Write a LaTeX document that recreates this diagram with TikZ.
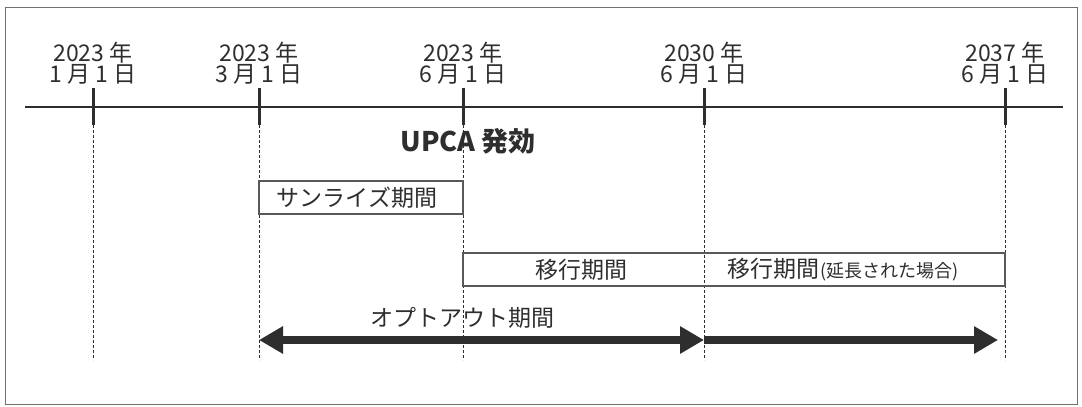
\documentclass[tikz,border=0pt]{standalone}
\usepackage{fontspec}
\setmainfont{Noto Sans CJK JP}
\usetikzlibrary{arrows.meta}
\definecolor{ink}{HTML}{2E2E2E}
\definecolor{frame}{HTML}{707070}
\tikzset{
  datelbl/.style={align=center,font=\fontsize{23}{21}\selectfont,text=ink,inner sep=0pt},
  tickln/.style={line width=3pt,draw=ink},
  axis/.style={line width=2.6pt,draw=ink},
  guide/.style={draw=ink,line width=0.8pt,dash pattern=on 3pt off 2pt},
  periodbox/.style={draw=ink!80,line width=1.1pt},
  boxlbl/.style={font=\fontsize{23}{24}\selectfont,text=ink,inner sep=0pt},
  bigarrow/.style={draw=ink,line width=8pt,-{Triangle[length=24pt,width=26pt]}},
  dblarrow/.style={draw=ink,line width=8pt,{Triangle[length=24pt,width=26pt]}-{Triangle[length=24pt,width=26pt]}},
}
\begin{document}
\begin{tikzpicture}[x=1pt,y=-1pt]
\useasboundingbox (0,0) rectangle (1082,407);
\draw[frame,line width=1pt] (5,7) rectangle (1077,404);
% axis
\coordinate (axL) at (25,107);
\coordinate (axR) at (1063,107);
\draw[axis] (axL) -- (axR);
% ticks
\foreach \n/\x in {1/93,2/259,3/463,4/704,5/1005}{
  \coordinate (t\n a) at (\x,88);
  \coordinate (t\n b) at (\x,125);
  \coordinate (t\n c) at (\x,360);
  \draw[tickln] (t\n a) -- (t\n b);
  \draw[guide] (t\n b) -- (t\n c);
}
% date labels
\node[datelbl] (d1) at (93,63) {2023 年\\1 月 1 日};
\node[datelbl] (d2) at (259,63) {2023 年\\3 月 1 日};
\node[datelbl] (d3) at (463,63) {2023 年\\6 月 1 日};
\node[datelbl] (d4) at (704,63) {2030 年\\6 月 1 日};
\node[datelbl] (d5) at (1005,63) {2037 年\\6 月 1 日};
% UPCA
\node[font=\fontsize{27}{28}\selectfont\bfseries,text=ink,inner sep=0pt] (upca) at (468,141) {UPCA 発効};
% sunrise box
\fill[white] (259,181) rectangle (463,214);
\draw[periodbox] (259,181) rectangle (463,214);
\node[boxlbl] (sun) at (357,198) {サンライズ期間};
% transition box
\draw[periodbox] (463,253) rectangle (1005,286);
\node[boxlbl] (tr1) at (581,270) {移行期間};
\node[boxlbl,anchor=west] (tr2) at (727,270) {移行期間\fontsize{18}{19}\selectfont\kern1pt(延長された場合)};
% opt-out
\node[boxlbl] (opt) at (462,318) {オプトアウト期間};
\coordinate (a1) at (259,340);
\coordinate (a2) at (704,340);
\coordinate (a3) at (998,340);
\draw[dblarrow] (a1) -- (a2);
\draw[bigarrow] (a2) -- (a3);
\end{tikzpicture}
\end{document}
